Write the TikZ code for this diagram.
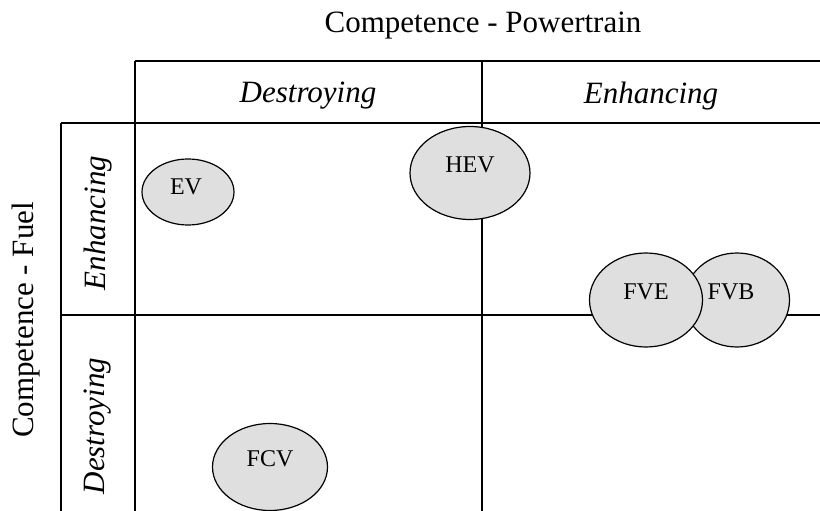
\documentclass[tikz,border=0pt]{standalone}
\usepackage{fontspec}
\setmainfont{Liberation Serif}
\usetikzlibrary{shapes.geometric}

\begin{document}
\begin{tikzpicture}[x=1pt, y=-1pt, line width=1.2pt,
			tech/.style = {draw, ellipse, fill=gray!25, inner sep=0pt},
			tag/.style = {font=\fontsize{24}{28}\selectfont, yshift=8pt},
			head/.style = {font=\fontsize{31}{36}\selectfont\itshape},
			axis/.style = {font=\fontsize{31}{36}\selectfont}]
			\useasboundingbox (0,0) rectangle (820,511);
			
			% grid
			\coordinate (tl) at (135,61);
			\coordinate (tm) at (482,61);
			\coordinate (tr) at (820,61);
			\draw (tl)--(tr);
			\draw (61,123)--(820,123);
			\draw (61,315)--(820,315);
			\draw (tl)--(135,511);
			\draw (tm)--(482,511);
			\draw (61,123)--(61,511);
			
			% axis titles
			\node[axis] (pt) at (483,26) {Competence - Powertrain};
			\node[axis, rotate=90] (fu) at (26,320) {Competence - Fuel};
			\node[head] (pd) at (308,96) {Destroying};
			\node[head] (pe) at (651,96) {Enhancing};
			\node[head, rotate=90] (fe) at (98,223) {Enhancing};
			\node[head, rotate=90] (fd) at (98,426) {Destroying};
			
			% vehicles
			\node[tech, minimum width=92, minimum height=66, label={[tag, xshift=-2pt, yshift=-3pt]center:EV}] (ev) at (188,192) {};
			\node[tech, minimum width=120, minimum height=93, label={[tag]center:HEV}] (hev) at (470,173) {};
			\node[tech, minimum width=105, minimum height=94, label={[tag, xshift=-6pt]center:FVB}] (fvb) at (737,300) {};
			\node[tech, minimum width=113, minimum height=94, label={[tag]center:FVE}] (fve) at (646,300) {};
			\node[tech, minimum width=115, minimum height=87, label={[tag]center:FCV}] (fcv) at (270,467) {};
			
			\end{tikzpicture}
\end{document}
